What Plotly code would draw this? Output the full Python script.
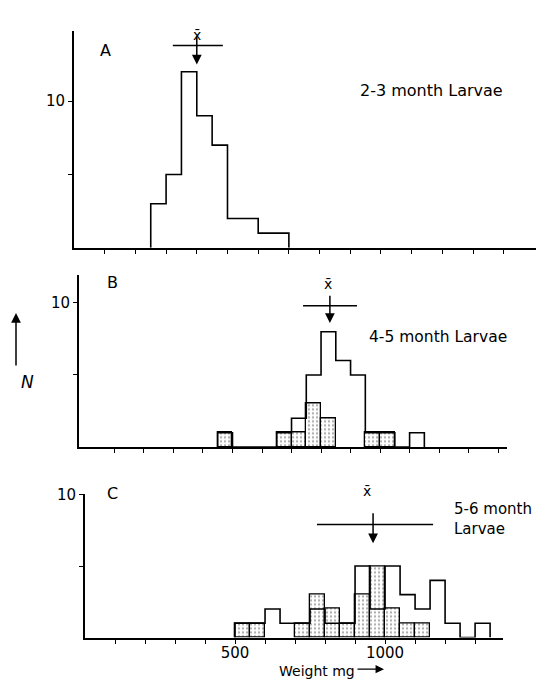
import plotly.graph_objects as go

W, H = 538, 679
BIN = 50

# ---- data (weight bins in mg, counts N) ----
a_start = [250, 300, 350, 400, 450, 500, 550, 600, 650]
a_open = [3, 5, 12, 9, 7, 2, 2, 1, 1]

b_start = [450, 500, 550, 600, 650, 700, 750, 800, 850, 900, 950, 1000, 1050, 1100]
b_open = [1, 0, 0, 0, 1, 2, 5, 8, 6, 5, 1, 1, 0, 1]
b_shaded = [1, 0, 0, 0, 1, 1, 3, 2, 0, 0, 1, 1, 0, 0]

c_start = [500, 550, 600, 650, 700, 750, 800, 850, 900, 950, 1000, 1050, 1100, 1150, 1200, 1250, 1300]
c_open = [1, 1, 2, 1, 1, 2, 1, 1, 5, 2, 5, 3, 2, 4, 1, 0, 1]
c_shaded = [1, 1, 0, 0, 1, 3, 2, 1, 3, 5, 2, 1, 1, 0, 0, 0, 0]

# mean and spread bars (mg)
means = [400, 830, 960]
spread_lo = [322, 739, 773]
spread_hi = [485, 922, 1160]

panel_letters = ["A", "B", "C"]
panel_titles = ["2-3 month Larvae", "4-5 month Larvae", "5-6 month<br>Larvae"]
x_tick_vals = list(range(100, 1500, 100))
c_label_vals = [500, 1000]

FAM = "DejaVu Sans, Liberation Sans, sans-serif"

def px(x):
    return x / W

def py(y):
    return 1 - y / H

fig = go.Figure()

def step_xy(starts, counts):
    xs = [starts[0]] + list(starts) + [starts[-1] + BIN]
    ys = [0] + list(counts) + [0]
    return xs, ys

pattern = dict(shape=".", fgcolor="#555555", bgcolor="white", size=4, solidity=0.25)

panels = [
    ("x", "y", a_start, a_open, None),
    ("x2", "y2", b_start, b_open, b_shaded),
    ("x3", "y3", c_start, c_open, c_shaded),
]
for xa, ya, starts, op, sh in panels:
    if sh is not None:
        xs = [s + BIN / 2 for s, v in zip(starts, sh) if v > 0]
        ys = [v for v in sh if v > 0]
        fig.add_trace(go.Bar(x=xs, y=ys, width=BIN, xaxis=xa, yaxis=ya,
                             marker=dict(color="white", pattern=pattern,
                                         line=dict(color="black", width=1.3)),
                             hoverinfo="skip"))
    sx, sy = step_xy(starts, op)
    fig.add_trace(go.Scatter(x=sx, y=sy, mode="lines", line=dict(color="black", width=1.6, shape="hv"),
                             xaxis=xa, yaxis=ya, hoverinfo="skip"))

axis_common = dict(showgrid=False, zeroline=False, showline=True, linecolor="black", linewidth=2,
                   ticks="outside", ticklen=4, tickwidth=1.3, tickcolor="black",
                   tickfont=dict(family=FAM, size=15, color="black"))

# panel geometry (pixels): x-domain left/right, y zero / top, ranges
geom = [
    dict(xl=74, xr=536, xmin=0, xmax=1505, yb=242, yt=22, ymax=14.8),
    dict(xl=79, xr=507, xmin=-20, xmax=1430, yb=444, yt=270, ymax=11.9),
    dict(xl=85, xr=503, xmin=0, xmax=1393, yb=637, yt=492, ymax=10.0),
]
for i, g in enumerate(geom):
    sfx = "" if i == 0 else str(i + 1)
    show_lbl = i == 2
    fig.update_layout(**{
        "xaxis" + sfx: dict(axis_common, domain=[px(g["xl"]), px(g["xr"])], range=[g["xmin"], g["xmax"]],
                           anchor="y" + sfx, tickvals=x_tick_vals, ticklabelstandoff=-4,
                           ticktext=[str(v) if (show_lbl and v in c_label_vals) else "" for v in x_tick_vals]),
        "yaxis" + sfx: dict(axis_common, domain=[py(g["yb"]), py(g["yt"])], range=[0, g["ymax"]],
                           anchor="x" + sfx, tickvals=[5, 10], ticktext=["", "10"]),
    })

font = dict(family=FAM, size=16, color="black")
ann = []
shapes = []
# mean markers
mean_y = [(13.8, 14.5, 12.5), (9.8, 10.6, 8.6), (7.9, 8.8, 6.6)]
xbar_lbl_px = [(197, 16), (328, 279), (373, 499)]
for i in range(3):
    sfx = "" if i == 0 else str(i + 1)
    xr, yr = "x" + sfx, "y" + sfx
    ly, ay_top, ay_bot = mean_y[i]
    shapes.append(dict(type="line", xref=xr, yref=yr, x0=spread_lo[i], x1=spread_hi[i], y0=ly, y1=ly,
                       line=dict(color="black", width=1.5)))
    ann.append(dict(xref=xr, yref=yr, x=means[i], y=ay_bot, axref=xr, ayref=yr, ax=means[i], ay=ay_top,
                    showarrow=True, arrowhead=2, arrowsize=1.3, arrowwidth=1.5, arrowcolor="black", text=""))
    lx, lyp = xbar_lbl_px[i]
    ann.append(dict(xref="paper", yref="paper", x=px(lx), y=py(lyp), text="x\u0304", showarrow=False,
                    font=dict(font, size=14)))

# panel letters
for (lx, ly), t in zip([(98, 30), (105, 277), (105, 503)], panel_letters):
    ann.append(dict(xref="paper", yref="paper", x=px(lx), y=py(ly), text=t, showarrow=False, font=font))

# panel titles
ann.append(dict(xref="paper", yref="paper", x=px(358), y=py(71), text=panel_titles[0], showarrow=False,
                font=font, xanchor="left"))
ann.append(dict(xref="paper", yref="paper", x=px(367), y=py(332), text=panel_titles[1], showarrow=False,
                font=dict(font, size=15.5), xanchor="left"))
ann.append(dict(xref="paper", yref="paper", x=px(452), y=py(538), text=panel_titles[2], showarrow=False,
                font=dict(font, size=15), xanchor="left", align="left"))

# N axis label with arrow
ann.append(dict(xref="paper", yref="paper", x=px(16), y=py(308), ax=0, ay=54, text="", showarrow=True,
                arrowhead=2, arrowsize=1.3, arrowwidth=1.5, arrowcolor="black"))
ann.append(dict(xref="paper", yref="paper", x=px(19), y=py(378), text="<i>N</i>", showarrow=False,
                font=dict(font, size=17)))

# Weight label with arrow
ann.append(dict(xref="paper", yref="paper", x=px(277), y=py(671), text="Weight mg", showarrow=False,
                font=dict(font, size=14), xanchor="left", yanchor="middle"))
ann.append(dict(xref="paper", yref="paper", x=px(384), y=py(669), ax=-28, ay=0, text="", showarrow=True,
                arrowhead=2, arrowsize=1.3, arrowwidth=1.3, arrowcolor="black"))

fig.update_layout(width=W, height=H, margin=dict(l=0, r=0, t=0, b=0), showlegend=False,
                  paper_bgcolor="white", plot_bgcolor="white", bargap=0, barmode="overlay",
                  annotations=ann, shapes=shapes)

fig.write_html("out.html")
